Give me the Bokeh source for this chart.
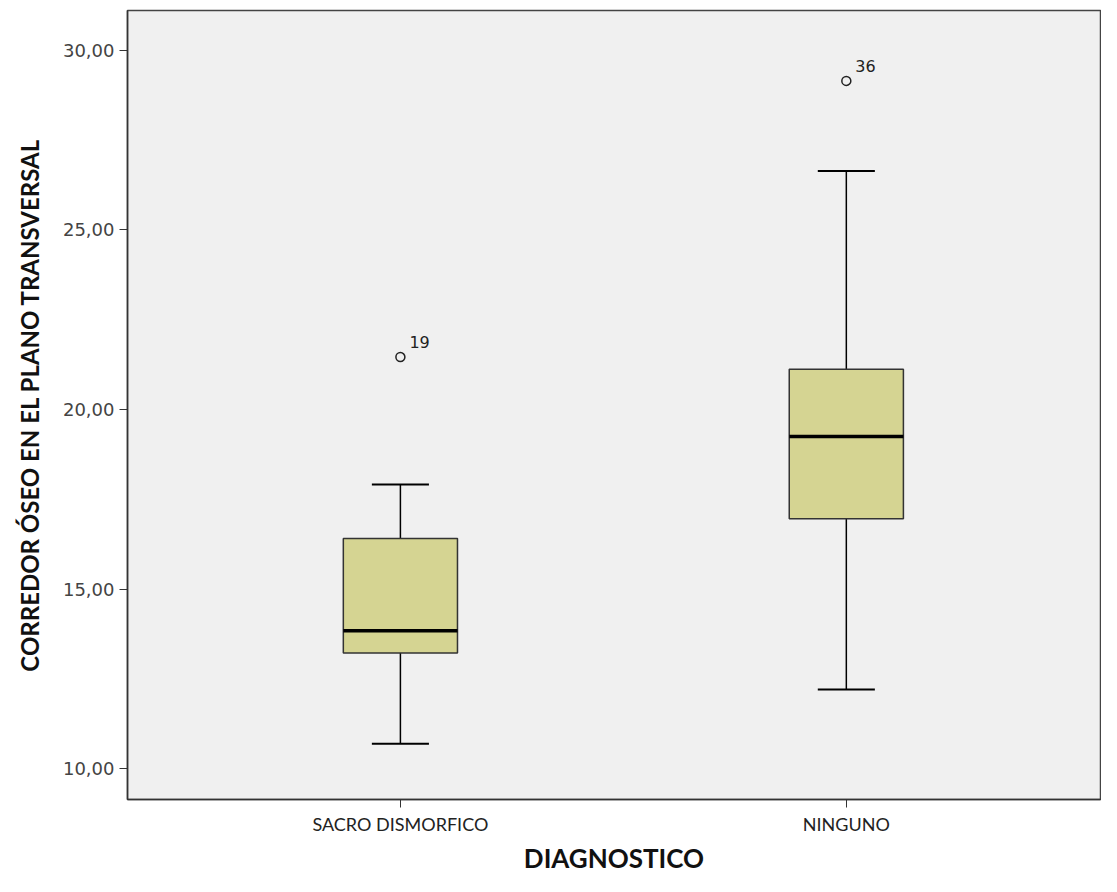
from bokeh.plotting import figure
from bokeh.models import FixedTicker, ColumnDataSource
from bokeh.core.properties import value
from bokeh.embed import file_html
from bokeh.resources import INLINE

# ---- data ----
categories = ["SACRO DISMORFICO", "NINGUNO"]
whisker_lo = [10.69, 12.20]
q1 = [13.22, 16.96]
median = [13.84, 19.25]
q3 = [16.41, 21.12]
whisker_hi = [17.91, 26.64]
outlier_cat = [1, 2]
outlier_val = [21.46, 29.15]
outlier_lbl = ["19", "36"]
y_ticks = [10, 15, 20, 25, 30]
y_tick_labels = ["10,00", "15,00", "20,00", "25,00", "30,00"]

xpos = list(range(1, len(categories) + 1))
BOX_HW = 0.128
CAP_HW = 0.064

p = figure(width=1101, height=876, output_backend="svg", toolbar_location=None,
           x_range=(0.388, 2.570), y_range=(9.14, 31.11))
p.min_border_left = 127
p.min_border_right = 1
p.min_border_top = 10
p.min_border_bottom = 72
p.background_fill_color = "#f0f0f0"
p.border_fill_color = "white"
p.outline_line_color = "#444444"
p.outline_line_width = 1.5
p.grid.visible = False

src = ColumnDataSource(dict(x=xpos, lo=whisker_lo, q1=q1, med=median, q3=q3, hi=whisker_hi,
                            left=[x - BOX_HW for x in xpos], right=[x + BOX_HW for x in xpos],
                            cl=[x - CAP_HW for x in xpos], cr=[x + CAP_HW for x in xpos]))

# whiskers
p.segment(x0="x", y0="q3", x1="x", y1="hi", source=src, line_color="black", line_width=1.5)
p.segment(x0="x", y0="lo", x1="x", y1="q1", source=src, line_color="black", line_width=1.5)
p.segment(x0="cl", y0="hi", x1="cr", y1="hi", source=src, line_color="black", line_width=2)
p.segment(x0="cl", y0="lo", x1="cr", y1="lo", source=src, line_color="black", line_width=2)
# boxes
p.quad(left="left", right="right", bottom="q1", top="q3", source=src,
       fill_color="#d5d492", line_color="#333333", line_width=1.5)
# medians
p.segment(x0="left", y0="med", x1="right", y1="med", source=src, line_color="black", line_width=3.5)

# outliers
osrc = ColumnDataSource(dict(x=outlier_cat, y=outlier_val, t=outlier_lbl))
p.scatter(x="x", y="y", source=osrc, marker="circle", size=9, fill_color=None,
          line_color="#222222", line_width=1.5)
p.text(x="x", y="y", text="t", source=osrc, x_offset=9, y_offset=-9,
       text_font=value("DejaVu Sans"), text_font_size="16px", text_color="#222222",
       text_baseline="bottom", text_align="left")

# axes
xa = p.xaxis[0]
xa.ticker = FixedTicker(ticks=xpos)
xa.major_label_overrides = {x: c for x, c in zip(xpos, categories)}
xa.minor_tick_line_color = None
xa.major_tick_out = 8
xa.major_tick_in = 0
xa.axis_line_color = "#333333"
xa.axis_line_width = 1.5
xa.major_tick_line_color = "#333333"
xa.major_label_text_font = "Lato"
xa.major_label_text_font_size = "18px"
xa.major_label_text_color = "#222222"
xa.major_label_standoff = 5
xa.axis_label = "DIAGNOSTICO"
xa.axis_label_text_font = "Lato"
xa.axis_label_text_font_style = "bold"
xa.axis_label_text_font_size = "26px"
xa.axis_label_text_color = "#111111"
xa.axis_label_standoff = 4

ya = p.yaxis[0]
ya.ticker = FixedTicker(ticks=y_ticks)
ya.major_label_overrides = {t: l for t, l in zip(y_ticks, y_tick_labels)}
ya.minor_tick_line_color = None
ya.major_tick_out = 8
ya.major_tick_in = 0
ya.axis_line_color = "#333333"
ya.axis_line_width = 1.5
ya.major_tick_line_color = "#333333"
ya.major_label_text_font = "DejaVu Sans"
ya.major_label_text_font_size = "18px"
ya.major_label_text_color = "#444444"
ya.major_label_standoff = 5
ya.axis_label = "CORREDOR ÓSEO EN EL PLANO TRANSVERSAL"
ya.axis_label_text_font = "Lato"
ya.axis_label_text_font_style = "bold"
ya.axis_label_text_font_size = "24px"
ya.axis_label_text_color = "#111111"
ya.axis_label_standoff = 16

open("out.html", "w").write(file_html(p, INLINE))
